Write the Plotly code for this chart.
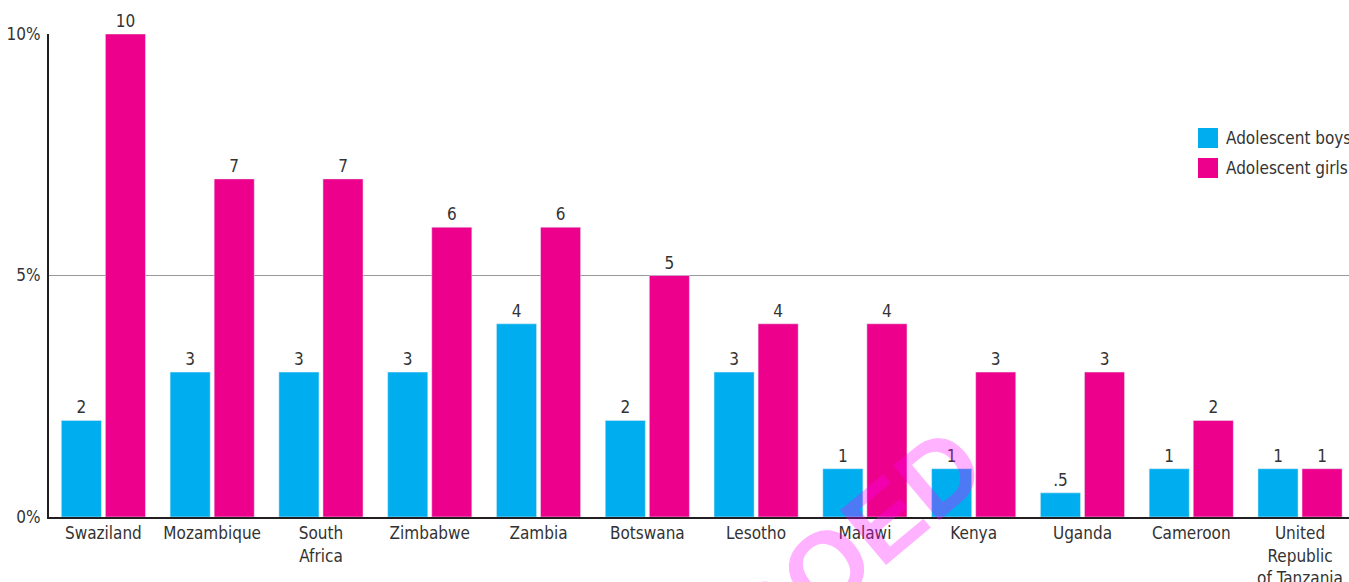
import plotly.graph_objects as go

countries = ["Swaziland", "Mozambique", "South<br>Africa", "Zimbabwe", "Zambia", "Botswana",
             "Lesotho", "Malawi", "Kenya", "Uganda", "Cameroon", "United<br>Republic<br>of Tanzania"]
boys = [2, 3, 3, 3, 4, 2, 3, 1, 1, 0.5, 1, 1]
girls = [10, 7, 7, 6, 6, 5, 4, 4, 3, 3, 2, 1]
boys_text = ["2", "3", "3", "3", "4", "2", "3", "1", "1", ".5", "1", "1"]
girls_text = ["10", "7", "7", "6", "6", "5", "4", "4", "3", "3", "2", "1"]
series_names = ["Adolescent boys", "Adolescent girls"]
series_colors = ["#00aeef", "#ec008c"]
y_ticks = [0, 5, 10]
y_tick_labels = ["0%", "5%", "10%"]

FONT = "Liberation Sans Narrow, DejaVu Sans Condensed, Roboto, sans-serif"
TXT = "#333333"
x = list(range(len(countries)))

fig = go.Figure()
for vals, txt, name, col in [(boys, boys_text, series_names[0], series_colors[0]),
                             (girls, girls_text, series_names[1], series_colors[1])]:
    fig.add_trace(go.Bar(x=x, y=vals, name=name, marker_color=col,
                         text=txt, textposition="outside", cliponaxis=False,
                         textfont=dict(family=FONT, size=17, color=TXT)))

fig.update_layout(
    width=1349, height=582,
    margin=dict(l=49, r=0, t=34, b=65),
    plot_bgcolor="white", paper_bgcolor="white",
    barmode="group", bargap=0.19, bargroupgap=0.09,
    font=dict(family=FONT, size=17, color=TXT),
    showlegend=False,
    xaxis=dict(range=[-0.5, 11.45], tickmode="array", tickvals=x, ticktext=countries,
               showline=True, linecolor="#231f20", linewidth=2, ticks="",
               showgrid=False, zeroline=False, automargin=False,
               tickfont=dict(size=17, color=TXT)),
    yaxis=dict(range=[0, 10], tickmode="array", tickvals=y_ticks, ticktext=y_tick_labels,
               showline=True, linecolor="#231f20", linewidth=2, ticks="",
               showgrid=True, gridcolor="#999999", gridwidth=1, zeroline=False,
               automargin=False, tickfont=dict(size=17, color=TXT), ticklabelstandoff=3),
)

# custom legend (20px squares)
PW, PH, PL, PB = 1300.0, 483.0, 49.0, 517.0
def px(xp):
    return (xp - PL) / PW
def py(yp):
    return (PB - yp) / PH
for i, (name, col) in enumerate(zip(series_names, series_colors)):
    cy = 138 + 30 * i
    fig.add_shape(type="rect", xref="paper", yref="paper",
                  x0=px(1198), x1=px(1218), y0=py(cy + 10), y1=py(cy - 10),
                  fillcolor=col, line=dict(width=0))
    fig.add_annotation(text=name, xref="paper", yref="paper", x=px(1224), y=py(cy),
                       xanchor="left", yanchor="middle", showarrow=False,
                       font=dict(family=FONT, size=17, color=TXT))

fig.add_annotation(text="<b>EMBARGOED</b>", xref="paper", yref="paper",
                   x=px(705), y=py(670), xanchor="center", yanchor="middle",
                   showarrow=False, textangle=-40,
                   font=dict(family="Liberation Sans, Arial, sans-serif", size=104,
                             color="rgba(255,0,255,0.3)"))

css_js = (
    "var s=document.createElement('style');"
    "s.textContent='html,body{margin:0!important;padding:0!important;overflow:hidden!important;"
    "height:582px!important;width:1349px!important;} body>div{height:582px;overflow:hidden;}';"
    "document.head.appendChild(s);"
)
fig.write_html("out.html", config={"displayModeBar": False}, post_script=css_js)
